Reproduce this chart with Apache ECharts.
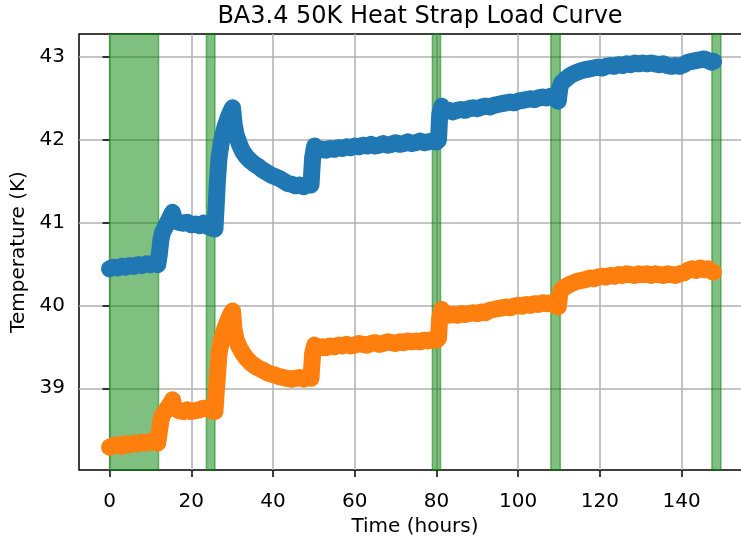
<!DOCTYPE html>
<html>
<head>
<meta charset="utf-8">
<script src="https://cdn.jsdelivr.net/npm/echarts@6/dist/echarts.min.js"></script>
<style>
  html, body { margin: 0; padding: 0; background: #fff; }
  #chart { width: 741px; height: 538px; }
</style>
</head>
<body>
<div id="chart"></div>
<script>
// Elapsed time of each sample (hours)
const hours = [
  0, 1, 2, 3, 4, 5, 6, 7, 8, 9, 10, 11, 11.8,
  12.2, 12.6, 13, 14, 15, 15.4, 15.9,
  17, 18, 19, 20, 21, 22, 23, 24, 25, 25.8,
  26.1, 26.4, 26.8, 27.4, 28.2, 29, 29.7, 30.1,
  30.5, 31, 31.8, 32.5, 33.5, 34.5, 35.5, 36.5, 37.5, 38.5, 39.5, 40.5, 41.5, 42.5, 43.5, 44.5, 45.5, 46.5, 47.5, 48.5, 49.3,
  49.7, 50.2, 50.8,
  52, 53, 54, 55, 56, 57, 58, 59, 60, 61, 62, 63, 64, 65, 66, 67, 68, 69, 70, 71, 72, 73, 74, 75, 76, 77, 78, 79, 80,
  80.5, 80.8, 81.3,
  82, 83, 84, 85, 86, 87, 88, 89, 90, 91, 92, 93, 94, 95, 96, 97, 98, 99, 100, 101, 102, 103, 104, 105, 106, 107, 108, 109,
  109.8, 110.2, 110.6,
  111.5, 112.5, 113.5, 114.5, 115.5, 116.5, 117.5, 118.5, 119.5, 120.5, 121.5, 122.5, 123.5, 124.5, 125.5, 126.5, 127.5, 128.5,
  129.5, 130.5, 131.5, 132.5, 133.5, 134.5, 135.5, 136.5, 137.5, 138.5, 139.5, 140.5, 141.5, 142.5, 143.5, 144.5, 145.5, 146.5,
  147.3, 147.8
];

// Warmer sensor (K)
const upperTemp = [
  40.44, 40.46, 40.45, 40.47, 40.46, 40.48, 40.47, 40.49, 40.48, 40.50, 40.49, 40.51, 40.49,
  40.62, 40.80, 40.88, 40.98, 41.08, 41.12, 41.02,
  41.00, 40.99, 41.00, 40.97, 40.98, 40.96, 40.99, 40.95, 40.93, 40.92,
  41.20, 41.50, 41.78, 41.98, 42.14, 42.26, 42.34, 42.38,
  42.18, 42.05, 41.94, 41.86, 41.79, 41.74, 41.70, 41.67, 41.63, 41.60, 41.57, 41.55, 41.53, 41.50, 41.47, 41.46, 41.44, 41.45, 41.43, 41.46, 41.45,
  41.78, 41.92, 41.86,
  41.88, 41.87, 41.89, 41.88, 41.90, 41.89, 41.91, 41.90, 41.92, 41.91, 41.93, 41.92, 41.94, 41.92, 41.93, 41.95, 41.93, 41.94, 41.96, 41.94, 41.95, 41.97, 41.95, 41.96, 41.98, 41.96, 41.97, 41.98, 41.97,
  41.99, 42.30, 42.40,
  42.34, 42.35, 42.33, 42.35, 42.36, 42.35, 42.37, 42.38, 42.37, 42.39, 42.40, 42.39, 42.41, 42.42, 42.43, 42.44, 42.45, 42.44, 42.46, 42.47, 42.48, 42.49, 42.48, 42.50, 42.51, 42.50, 42.52, 42.49,
  42.46, 42.62, 42.68,
  42.72, 42.76, 42.79, 42.81, 42.83, 42.84, 42.85, 42.86, 42.87, 42.86, 42.88, 42.89, 42.88, 42.90, 42.89, 42.91, 42.90, 42.92,
  42.91, 42.92, 42.91, 42.92, 42.91, 42.90, 42.91, 42.89, 42.88, 42.89, 42.88, 42.90, 42.93, 42.94, 42.95, 42.96, 42.97, 42.95,
  42.93, 42.94
];

// Cooler sensor (K)
const lowerTemp = [
  38.29, 38.31, 38.32, 38.30, 38.33, 38.32, 38.34, 38.33, 38.35, 38.34, 38.36, 38.35, 38.34,
  38.48, 38.62, 38.68, 38.75, 38.82, 38.86, 38.76,
  38.73, 38.72, 38.74, 38.72, 38.73, 38.74, 38.76, 38.75, 38.73, 38.72,
  38.95, 39.15, 39.42, 39.58, 39.72, 39.82, 39.90, 39.93,
  39.70, 39.58, 39.49, 39.43, 39.36, 39.31, 39.27, 39.24, 39.22, 39.19, 39.17, 39.16, 39.14, 39.13, 39.12, 39.11, 39.12, 39.13, 39.11, 39.13, 39.12,
  39.42, 39.52, 39.48,
  39.50, 39.49, 39.51, 39.50, 39.52, 39.51, 39.53, 39.51, 39.52, 39.54, 39.53, 39.52, 39.54, 39.55, 39.53, 39.54, 39.56, 39.55, 39.54, 39.56, 39.55, 39.57, 39.56, 39.57, 39.56, 39.58, 39.57, 39.59, 39.58,
  39.60, 39.85, 39.95,
  39.89, 39.88, 39.89, 39.88, 39.90, 39.89, 39.90, 39.91, 39.90, 39.92, 39.91, 39.94, 39.95, 39.96, 39.97, 39.98, 39.97, 39.99, 40.00, 39.99, 40.01, 40.00, 40.02, 40.01, 40.03, 40.02, 40.03, 40.00,
  39.98, 40.14, 40.19,
  40.22, 40.25, 40.27, 40.29, 40.30, 40.31, 40.33, 40.32, 40.34, 40.35, 40.34, 40.36, 40.35, 40.37, 40.36, 40.38, 40.37, 40.36,
  40.38, 40.37, 40.38, 40.36, 40.38, 40.37, 40.36, 40.38, 40.37, 40.36, 40.38, 40.39, 40.42, 40.44, 40.42, 40.45, 40.43, 40.44,
  40.41, 40.40
];

// Heater-on windows [start, end] (hours)
const heaterWindows = [[0, 12], [23.7, 25.8], [79, 81], [108, 110.3], [147.4, 149.6]];

const xTicks = [0, 20, 40, 60, 80, 100, 120, 140];
const yTicks = [39, 40, 41, 42, 43];

const FONT = 'DejaVu Sans';

const pairs = vals => hours.map((t, i) => [t, vals[i]]);

const chart = echarts.init(document.getElementById('chart'), null, { renderer: 'canvas' });

const tickStyle = { color: '#000', width: 1.5 };
const gridStyle = { color: '#b0b0b0', width: 1.5 };

chart.setOption({
  animation: false,
  backgroundColor: '#fff',
  title: {
    text: 'BA3.4 50K Heat Strap Load Curve',
    left: 415,
    top: 0,
    textAlign: 'center',
    textStyle: { fontFamily: FONT, fontSize: 24, fontWeight: 'normal', color: '#000' }
  },
  grid: {
    left: 79, top: 34, right: -10, bottom: 68,
    outerBoundsMode: 'none',
    containLabel: false,
    show: true, borderColor: '#000', borderWidth: 1.5, backgroundColor: 'transparent'
  },
  xAxis: {
    type: 'value',
    min: -7.47, max: 156.97,
    name: 'Time (hours)',
    nameLocation: 'middle',
    nameGap: 41,
    nameTextStyle: { fontFamily: FONT, fontSize: 20, color: '#000' },
    axisLine: { show: false },
    axisTick: { show: true, length: 7, lineStyle: tickStyle, customValues: xTicks },
    axisLabel: { fontFamily: FONT, fontSize: 20, color: '#000', margin: 22, customValues: xTicks },
    splitLine: { show: true, lineStyle: gridStyle }
  },
  yAxis: {
    type: 'value',
    min: 38.015, max: 43.27,
    name: 'Temperature (K)',
    nameLocation: 'middle',
    nameGap: 46,
    nameTextStyle: { fontFamily: FONT, fontSize: 20, color: '#000' },
    axisLine: { show: false },
    axisTick: { show: true, length: 7, lineStyle: tickStyle, customValues: yTicks },
    axisLabel: { fontFamily: FONT, fontSize: 20, color: '#000', margin: 14, customValues: yTicks },
    splitLine: { show: true, lineStyle: gridStyle }
  },
  series: [
    {
      name: 'heater',
      type: 'line',
      data: [],
      z: -1,
      silent: true,
      markArea: {
        silent: true,
        itemStyle: { color: 'rgba(0,128,0,0.5)', borderColor: 'rgba(0,128,0,0.5)', borderWidth: 1.5 },
        data: heaterWindows.map(([a, b]) => [{ xAxis: a }, { xAxis: b }])
      }
    },
    {
      name: 'upper',
      type: 'line',
      data: pairs(upperTemp),
      showSymbol: false,
      smooth: false,
      lineStyle: { color: '#1f77b4', width: 17, cap: 'round', join: 'round' },
      itemStyle: { color: '#1f77b4' },
      z: 3
    },
    {
      name: 'lower',
      type: 'line',
      data: pairs(lowerTemp),
      showSymbol: false,
      smooth: false,
      lineStyle: { color: '#ff7f0e', width: 17, cap: 'round', join: 'round' },
      itemStyle: { color: '#ff7f0e' },
      z: 4
    }
  ]
});
</script>
</body>
</html>
